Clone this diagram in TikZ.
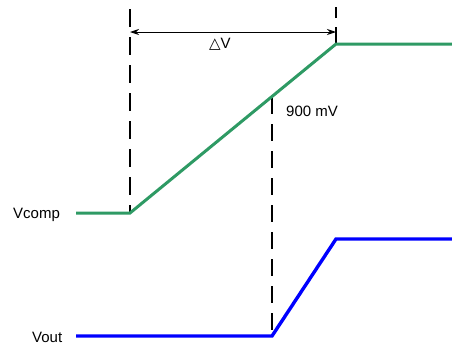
\documentclass[tikz,border=0pt]{standalone}
\usepackage{fontspec}
\setmainfont{Liberation Sans}
\newfontfamily\symfont{DejaVu Sans}
\usetikzlibrary{arrows.meta}
\definecolor{vgreen}{HTML}{2E9A64}
\begin{document}
\begin{tikzpicture}[x=1pt,y=-1pt,
  sig/.style={line width=3pt,line join=miter},
  guide/.style={line width=1.8pt,dash pattern=on 18pt off 10pt},
  lbl/.style={inner sep=0pt,font=\fontsize{15}{18}\selectfont}]
\useasboundingbox (0,0) rectangle (452,346);
% coordinates
\coordinate (g0) at (76,213);
\coordinate (g1) at (130,213);
\coordinate (g2) at (336,44);
\coordinate (g3) at (452,44);
\coordinate (b0) at (76,336);
\coordinate (b1) at (272,336);
\coordinate (b2) at (336,239);
\coordinate (b3) at (452,239);
\coordinate (gm) at (272,97);
\coordinate (t1) at (130,9);
\coordinate (t2) at (336,7);
\coordinate (a1) at (130,32);
\coordinate (a2) at (336,32);
% guides
\draw[guide] (t1) -- (g1);
\draw[guide,dash pattern=on 17pt off 9pt] (g2) -- (t2);
\draw[guide,dash pattern=on 17pt off 10pt] (gm) -- (b1);
% dimension arrow
\draw[line width=0.9pt,{Stealth[length=9pt,width=6pt]}-{Stealth[length=9pt,width=6pt]}] (a1) -- (a2);
% signals
\draw[sig,vgreen] (g0) -- (g1) -- (g2) -- (g3);
\draw[sig,blue,line width=3.4pt] (b0) -- (b1) -- (b2) -- (b3);
% labels
\node[lbl,anchor=base west] (lv) at (13,218) {Vcomp};
\node[lbl,anchor=base west] (lo) at (32,342) {Vout};
\node[lbl,anchor=base west] (lm) at (286,116) {900 mV};
\node[lbl,anchor=base west] (ld) at (209,48) {{\symfont △}V};
\end{tikzpicture}
\end{document}
